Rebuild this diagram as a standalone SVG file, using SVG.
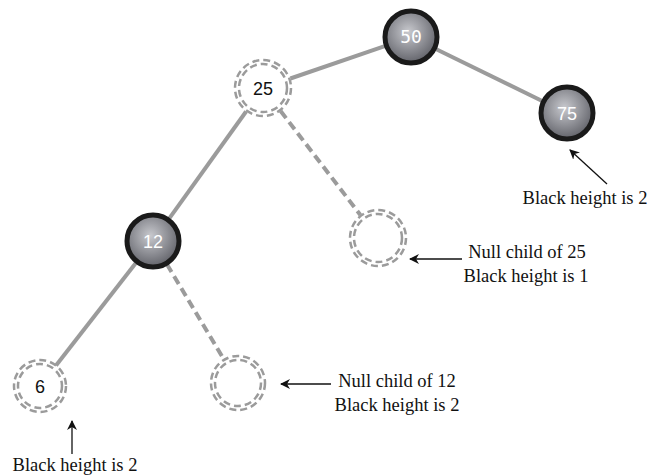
<svg xmlns="http://www.w3.org/2000/svg" width="648" height="476" viewBox="0 0 648 476">
<style>
.edge{stroke:#9b9b9b;stroke-width:4;fill:none}
.dedge{stroke:#9b9b9b;stroke-width:4;fill:none;stroke-dasharray:9 5}
.black{fill:url(#g);stroke:#1a1a1a;stroke-width:5}
.null{fill:none;stroke:#9b9b9b;stroke-width:2.5;stroke-dasharray:7 4}
.wt{font-family:"Liberation Sans",Arial,sans-serif;font-size:18px;fill:#fff;text-anchor:middle}
.bt{font-family:"Liberation Sans",Arial,sans-serif;font-size:18px;fill:#111;text-anchor:middle}
.lbl{font-family:"Liberation Serif","Times New Roman",serif;font-size:18.5px;fill:#111;text-anchor:middle}
.arr{stroke:#111;stroke-width:1.3;fill:none;marker-end:url(#ah)}
</style>
<defs>
<radialGradient id="g" cx="0.45" cy="0.4" r="0.6">
<stop offset="0" stop-color="#c8c9ce"/>
<stop offset="1" stop-color="#62636a"/>
</radialGradient>
<marker id="ah" viewBox="0 0 10 10" refX="9" refY="5" markerWidth="10" markerHeight="10" markerUnits="userSpaceOnUse" orient="auto">
<path d="M0,0 L10,5 L0,10 L3,5 Z" fill="#111"/>
</marker>
</defs>
<rect width="648" height="476" fill="#fff"/>
<g id="connectors">
<line class="edge" x1="385.5" y1="45.8" x2="290.4" y2="78.5"/>
<line class="edge" x1="435.3" y1="48.8" x2="542.7" y2="101.2"/>
<line class="edge" x1="246.1" y1="111.5" x2="168.8" y2="219.1"/>
<line class="dedge" x1="280.6" y1="111" x2="360.4" y2="215"/>
<line class="edge" x1="136.4" y1="262.3" x2="56" y2="365.5"/>
<line class="dedge" x1="166.9" y1="264.2" x2="224.1" y2="359.8"/>
</g>
<g id="n50"><circle class="black" cx="411" cy="37" r="26"/><text class="wt" x="411" y="43" style="font-family:'DejaVu Sans Mono',monospace">50</text></g>
<g id="n75"><circle class="black" cx="567" cy="113" r="26"/><text class="wt" x="567" y="119.5">75</text></g>
<g id="n25"><circle class="null" cx="263" cy="88" r="28"/><circle class="null" cx="263" cy="88" r="24"/><text class="bt" x="263" y="94.5">25</text></g>
<g id="n12"><circle class="black" cx="153" cy="241" r="26"/><text class="wt" x="153" y="247.5">12</text></g>
<g id="null25"><circle class="null" cx="378" cy="238" r="28"/><circle class="null" cx="378" cy="238" r="24"/></g>
<g id="n6"><circle class="null" cx="40" cy="386" r="26"/><circle class="null" cx="40" cy="386" r="22"/><text class="bt" x="40" y="392.5">6</text></g>
<g id="null12"><circle class="null" cx="238" cy="383" r="27"/><circle class="null" cx="238" cy="383" r="23"/></g>
<g id="labels">
<line class="arr" x1="607" y1="184" x2="570" y2="150"/>
<text class="lbl" x="585" y="204">Black height is 2</text>
<line class="arr" x1="462" y1="259" x2="410" y2="259"/>
<text class="lbl" x="527" y="258">Null child of 25</text>
<text class="lbl" x="526" y="282">Black height is 1</text>
<line class="arr" x1="331" y1="384" x2="281" y2="384"/>
<text class="lbl" x="397" y="387">Null child of 12</text>
<text class="lbl" x="397" y="411">Black height is 2</text>
<line class="arr" x1="72" y1="454" x2="72" y2="421"/>
<text class="lbl" x="75" y="471">Black height is 2</text>
</g>
</svg>
